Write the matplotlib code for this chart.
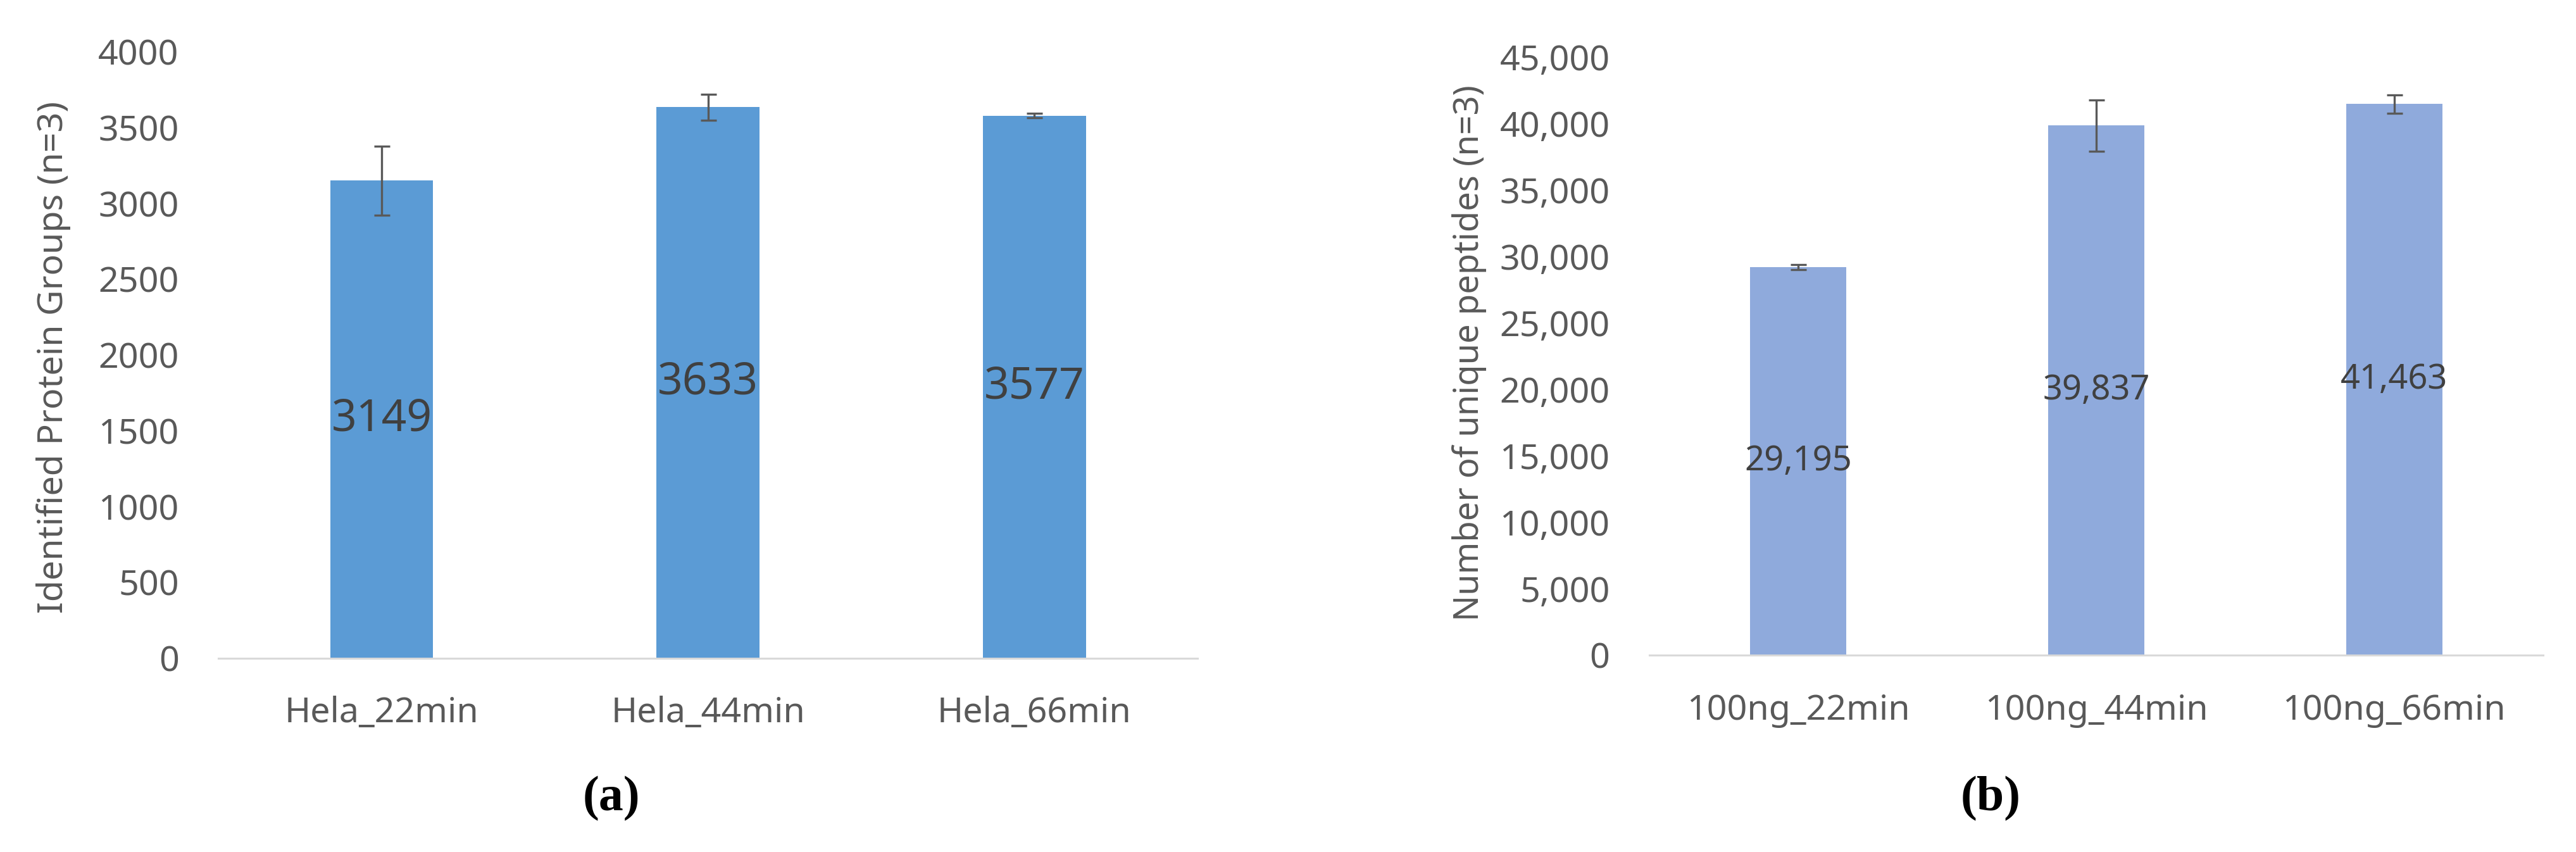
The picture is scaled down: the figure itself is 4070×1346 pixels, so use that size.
import matplotlib.pyplot as plt
from matplotlib.ticker import StrMethodFormatter

plt.rcParams['font.family'] = ['Noto Sans', 'DejaVu Sans']

# panel (a) - protein groups
cats_a = ['Hela_22min', 'Hela_44min', 'Hela_66min']
vals_a = [3149, 3633, 3577]
errs_a = [229, 84, 15]

# panel (b) - unique peptides
cats_b = ['100ng_22min', '100ng_44min', '100ng_66min']
vals_b = [29195, 39837, 41463]
errs_b = [200, 1950, 700]

text_col = '#595959'

fig = plt.figure(figsize=(40.70, 13.46), dpi=100)
ax_a = fig.add_axes([0.0848, 0.2277, 0.3801, 0.7117])
ax_b = fig.add_axes([0.6403, 0.2311, 0.3469, 0.7020])


def style_axis(ax, ylim, step):
    ax.set_xlim(-0.5, 2.5)
    ax.set_ylim(0, ylim)
    ax.set_yticks(range(0, ylim + 1, step))
    for side in ['top', 'right', 'left']:
        ax.spines[side].set_visible(False)
    ax.spines['bottom'].set_color('#D9D9D9')
    ax.spines['bottom'].set_linewidth(2.2)
    ax.tick_params(axis='y', length=0, pad=45, labelsize=40, labelcolor=text_col)
    ax.tick_params(axis='x', length=0, pad=43, labelsize=40, labelcolor=text_col)


# (a)
xa = range(len(cats_a))
ax_a.bar(xa, vals_a, width=0.315, color='#5B9BD5')
ax_a.errorbar(xa, vals_a, yerr=errs_a, fmt='none', ecolor='#595959',
              elinewidth=2.4, capsize=9, capthick=2.4)
for x, v in zip(xa, vals_a):
    ax_a.text(x, v / 2, str(v), ha='center', va='center', fontsize=50, color='#404040')
style_axis(ax_a, 4000, 500)
ax_a.set_xticks(list(xa))
ax_a.set_xticklabels(cats_a)
ax_a.set_ylabel('Identified Protein Groups (n=3)', fontsize=40, color=text_col)
ax_a.yaxis.set_label_coords(-0.1506, 0.496)

# (b)
xb = range(len(cats_b))
ax_b.bar(xb, vals_b, width=0.323, color='#8FAADC')
ax_b.errorbar(xb, vals_b, yerr=errs_b, fmt='none', ecolor='#595959',
              elinewidth=2.4, capsize=9, capthick=2.4)
for x, v in zip(xb, vals_b):
    ax_b.text(x, v / 2, f'{v:,}', ha='center', va='center', fontsize=39, color='#404040')
style_axis(ax_b, 45000, 5000)
ax_b.yaxis.set_major_formatter(StrMethodFormatter('{x:,.0f}'))
ax_b.set_xticks(list(xb))
ax_b.set_xticklabels(cats_b)
ax_b.set_ylabel('Number of unique peptides (n=3)', fontsize=39, color=text_col)
ax_b.yaxis.set_label_coords(-0.182, 0.505)

fig.text(0.2373, 0.063, '(a)', ha='center', va='center', fontsize=56,
         fontweight='bold', family='Liberation Serif')
fig.text(0.7727, 0.063, '(b)', ha='center', va='center', fontsize=56,
         fontweight='bold', family='Liberation Serif')

fig.savefig('out.png', dpi=100)
